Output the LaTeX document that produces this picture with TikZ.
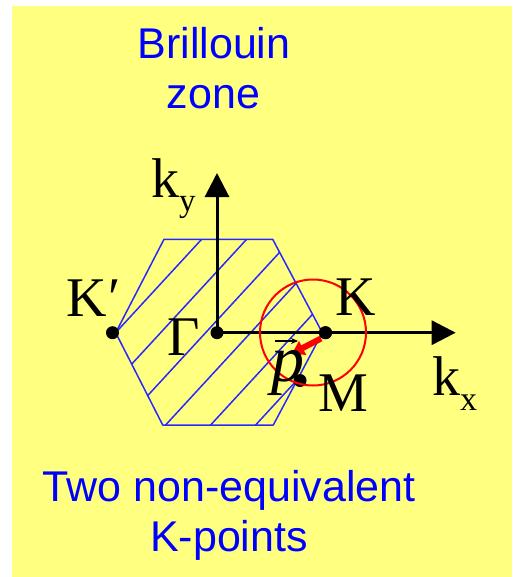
\documentclass[tikz,border=0pt]{standalone}
\usepackage{fontspec}
\setmainfont{Liberation Serif}
\newfontfamily\sansf{Liberation Sans}
\usetikzlibrary{arrows.meta}
\definecolor{bg}{RGB}{255,255,128}
\definecolor{zblue}{RGB}{0,0,255}
\definecolor{hexblue}{RGB}{40,40,255}
\begin{document}
\begin{tikzpicture}[x=1pt,y=-1pt,
  dot/.style={circle,fill=black,inner sep=0pt,minimum size=13pt},
  lbl/.style={font=\fontsize{56}{56}\selectfont,inner sep=0pt,anchor=base west},
  ttl/.style={font=\sansf\fontsize{43}{43}\selectfont,text=zblue,inner sep=0pt,anchor=base},
  axis/.style={line width=3pt,-{Triangle[width=24pt,length=24pt]}},
  hexline/.style={hexblue,line width=1.5pt},
]
\useasboundingbox (0,0) rectangle (514,577);
\fill[bg] (12,6) rectangle (512,577);
% hatching
\begin{scope}
\clip (164,239.3) -- (272.7,239.3) -- (322.3,332.7) -- (273.3,425) -- (162.7,425) -- (115.7,332.7) -- cycle;
\foreach \u in {422,467,512,557,602,647}
  \draw[hexline] ({\u-202.6},220) -- ({\u-405.2},440);
\end{scope}
\draw[hexline,line join=round] (164,239.3) -- (272.7,239.3) -- (322.3,332.7) -- (273.3,425) -- (162.7,425) -- (115.7,332.7) -- cycle;
% points
\node[dot] (G) at (217,332.7) {};
\node[dot] (K) at (325.5,332.7) {};
\node[dot] (Kp) at (112.5,332.7) {};
\node[dot] (M) at (300,380.5) {};
% axes
\coordinate (kxtip) at (455.7,332.7);
\coordinate (kytip) at (217,173);
\draw[axis] (G.center) -- (kxtip);
\draw[axis] (G.center) -- (kytip);
\fill (K) circle (6.5pt);
% red circle
\node[draw=red,circle,line width=2pt,minimum size=106pt,inner sep=0pt] (circ) at (313,332.5) {};
% red arrow
\coordinate (pstart) at (321,338.5);
\coordinate (ptip) at (292,353.5);
\draw[red,line width=6pt,-{Triangle[width=15pt,length=12pt]}] (pstart) -- (ptip);
% labels
\node[lbl] (lky) at (151,197.3) {k\raisebox{-14pt}{\fontsize{33}{33}\selectfont y}};
\node[lbl] (lkx) at (432,395) {k\raisebox{-15pt}{\fontsize{34}{34}\selectfont x}};
\node[lbl] (lKp) at (66,316.7) {K\kern2pt′};
\node[lbl] (lK) at (335,315) {K};
\node[lbl] (lG) at (167,355) {Γ};
\node[lbl] (lM) at (318,411.7) {M};
\node[lbl,font=\itshape\fontsize{66}{66}\selectfont] (lp) at (271,381) {p};
\coordinate (pvs) at (275,341);
\coordinate (pve) at (298,341);
\draw[line width=1.2pt,-{Stealth[length=7pt,width=6pt]}] (pvs) -- (pve);
% titles
\node[ttl] (t1) at (214,58.3) {Brillouin};
\node[ttl] (t2) at (213.5,108.3) {zone};
\node[ttl] (t3) at (229,501.7) {Two non-equivalent};
\node[ttl] (t4) at (229,551.7) {K-points};
\end{tikzpicture}
\end{document}
